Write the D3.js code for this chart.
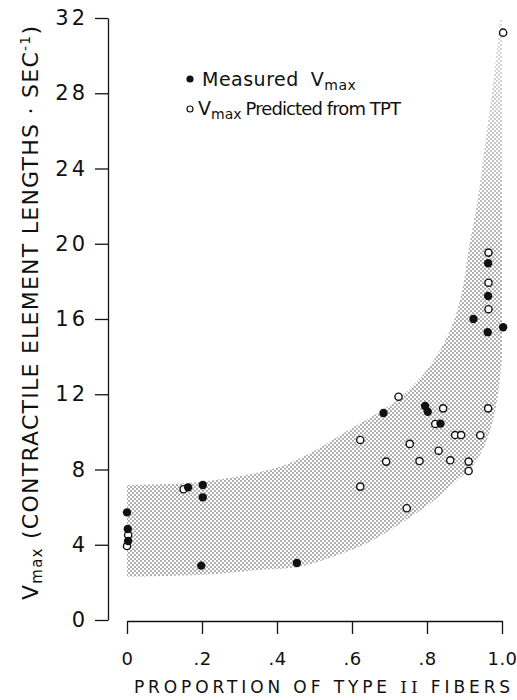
<!DOCTYPE html>
<html>
<head>
<meta charset="utf-8">
<script src="https://d3js.org/d3.v7.min.js"></script>
<style>
  html, body { margin: 0; padding: 0; background: #fff; }
  svg { display: block; }
  text { font-family: "DejaVu Sans", "Liberation Sans", sans-serif; fill: #111; }
</style>
</head>
<body>
<div id="chart"></div>
<script>
// Measured Vmax (filled dots): [proportion of type II fibers, Vmax]
const measured = [
  [0, 5.72], [0.002, 4.84], [0.003, 4.2],
  [0.163, 7.05], [0.202, 7.18], [0.202, 6.52], [0.198, 2.89],
  [0.453, 3.03], [0.684, 11.0], [0.795, 11.38], [0.802, 11.07],
  [0.836, 10.44], [0.924, 16.0], [0.962, 15.3], [1.003, 15.56],
  [0.963, 17.22], [0.963, 18.96],
];

// Vmax predicted from TPT (open circles)
const predicted = [
  [0.003, 4.52], [0, 3.93], [0.151, 6.95],
  [0.622, 9.57], [0.622, 7.09], [0.691, 8.42], [0.724, 11.87],
  [0.754, 9.36], [0.746, 5.94], [0.78, 8.45], [0.822, 10.42],
  [0.831, 9.0], [0.843, 11.25], [0.862, 8.49], [0.875, 9.83],
  [0.891, 9.83], [0.911, 8.42], [0.911, 7.92], [0.942, 9.82],
  [0.963, 11.25], [0.964, 16.52], [0.964, 17.93], [0.964, 19.53],
  [1.003, 31.22],
];

// Shaded range: upper edge and lower edge, both left to right
const bandUpper = [
  [0, 7.18], [0.2, 7.35], [0.4, 8.1], [0.5, 9.0], [0.6, 10.2],
  [0.7, 11.4], [0.76, 12.4], [0.8, 13.3], [0.835, 14.35], [0.87, 15.8],
  [0.895, 17.6], [0.912, 19.8], [0.935, 22.3], [0.955, 25.3],
  [0.978, 28.8], [0.995, 32],
];
const bandLower = [
  [0, 2.3], [0.2, 2.4], [0.35, 2.66], [0.46, 2.83], [0.55, 3.37],
  [0.64, 4.08], [0.73, 5.14], [0.82, 6.38], [0.87, 7.27], [0.92, 8.15],
  [0.96, 9.57], [0.987, 11.7], [1.0, 14],
];

const xTicks = [0, 0.2, 0.4, 0.6, 0.8, 1.0];
const xTickLabels = ["0", ".2", ".4", ".6", ".8", "1.0"];
const yTicks = [0, 4, 8, 12, 16, 20, 24, 28, 32];

const width = 517;
const height = 700;

const svg = d3
  .select("#chart")
  .append("svg")
  .attr("width", width)
  .attr("height", height);

const x = d3.scaleLinear().domain([0, 1]).range([127, 502]);
const y = d3.scaleLinear().domain([0, 32]).range([620, 18]);

// Stipple pattern for the shaded band
const defs = svg.append("defs");
const pat = defs
  .append("pattern")
  .attr("id", "stipple")
  .attr("width", 4)
  .attr("height", 4)
  .attr("patternUnits", "userSpaceOnUse");
pat.append("circle").attr("cx", 1).attr("cy", 1).attr("r", 0.72).attr("fill", "#3a3a3a");
pat.append("circle").attr("cx", 3).attr("cy", 3).attr("r", 0.72).attr("fill", "#3a3a3a");

// the stipple thins out toward the top
const grad = defs
  .append("linearGradient")
  .attr("id", "fade")
  .attr("gradientUnits", "userSpaceOnUse")
  .attr("x1", 0).attr("x2", 0)
  .attr("y1", y(19)).attr("y2", y(32));
grad.append("stop").attr("offset", 0).attr("stop-color", "#fff");
grad.append("stop").attr("offset", 1).attr("stop-color", "#707070");
defs
  .append("mask")
  .attr("id", "fadeMask")
  .append("rect")
  .attr("width", width)
  .attr("height", height)
  .attr("fill", "url(#fade)");

const edge = d3
  .line()
  .x((d) => x(d[0]))
  .y((d) => y(d[1]))
  .curve(d3.curveCatmullRom.alpha(0.5));
const upperPath = edge(bandUpper);
const lowerPath = edge(bandLower.slice().reverse());
// upper edge, across the top to x = 1.0, down to the lower edge, back to x = 0
const bandPath =
  upperPath +
  `L${x(1)},${y(32)}` +
  "L" + lowerPath.slice(1) +
  "Z";

svg
  .append("path")
  .attr("d", bandPath)
  .attr("fill", "url(#stipple)")
  .attr("mask", "url(#fadeMask)");

// Axes
const yAxis = svg
  .append("g")
  .attr("transform", "translate(108,0)")
  .call(
    d3.axisLeft(y).tickValues(yTicks).tickSize(13).tickSizeOuter(0).tickPadding(7)
  );

const xAxis = svg
  .append("g")
  .attr("transform", "translate(0,621)")
  .call(
    d3
      .axisBottom(x)
      .tickValues(xTicks)
      .tickFormat((d, i) => xTickLabels[i])
      .tickSize(13)
      .tickSizeOuter(0)
      .tickPadding(18)
  );

[yAxis, xAxis].forEach((g) => {
  g.selectAll("path, line").attr("stroke", "#111").attr("stroke-width", 1.3);
  g.selectAll("text")
    .style("font-family", '"DejaVu Sans", sans-serif')
    .attr("fill", "#111");
});
yAxis.selectAll("text").style("font-size", "21px").style("letter-spacing", "3px");
xAxis.selectAll("text").style("font-size", "18px").style("letter-spacing", "0.5px");

// Points
svg
  .append("g")
  .selectAll("circle")
  .data(predicted)
  .join("circle")
  .attr("cx", (d) => x(d[0]))
  .attr("cy", (d) => y(d[1]))
  .attr("r", 3.6)
  .attr("fill", "#fff")
  .attr("stroke", "#111")
  .attr("stroke-width", 1.4);

svg
  .append("g")
  .selectAll("circle")
  .data(measured)
  .join("circle")
  .attr("cx", (d) => x(d[0]))
  .attr("cy", (d) => y(d[1]))
  .attr("r", 4.2)
  .attr("fill", "#111");

// Legend
const legend = svg.append("g");
legend.append("circle").attr("cx", 190).attr("cy", 79).attr("r", 3.6).attr("fill", "#111");
legend
  .append("circle")
  .attr("cx", 190)
  .attr("cy", 109)
  .attr("r", 3)
  .attr("fill", "#fff")
  .attr("stroke", "#111")
  .attr("stroke-width", 1.2);

const lg1 = legend
  .append("text")
  .attr("x", 202)
  .attr("y", 86)
  .style("font-size", "19px")
  .style("letter-spacing", "0.5px");
lg1.append("tspan").text("Measured");
lg1.append("tspan").attr("dx", 12).text("V");
lg1.append("tspan").attr("dy", 4).style("font-size", "14px").text("max");

const lg2 = legend
  .append("text")
  .attr("x", 198)
  .attr("y", 115)
  .style("font-size", "19px");
lg2.append("tspan").text("V");
lg2.append("tspan").attr("dy", 4).style("font-size", "14px").text("max");
lg2
  .append("tspan")
  .attr("dy", -4)
  .attr("dx", 4)
  .style("font-size", "18px")
  .style("letter-spacing", "-0.9px")
  .text("Predicted from TPT");

// Axis titles
const xt = svg
  .append("text")
  .attr("x", 324)
  .attr("y", 693)
  .attr("text-anchor", "middle")
  .style("font-size", "17px")
  .style("letter-spacing", "3.9px");
xt.append("tspan").text("PROPORTION OF TYPE ");
xt.append("tspan").style("font-family", '"DejaVu Serif", serif').text("II");
xt.append("tspan").text(" FIBERS");

const yt = svg
  .append("text")
  .attr("transform", "translate(38,600) rotate(-90)")
  .style("font-size", "22px")
  .style("letter-spacing", "1.25px");
yt.append("tspan").text("V");
yt.append("tspan").attr("dy", 4).style("font-size", "15px").text("max");
yt.append("tspan").attr("dy", -4).text("  (CONTRACTILE ELEMENT LENGTHS · SEC");
yt.append("tspan").attr("dy", -8).style("font-size", "14px").text("-1");
yt.append("tspan").attr("dy", 8).text(")");
</script>
</body>
</html>
